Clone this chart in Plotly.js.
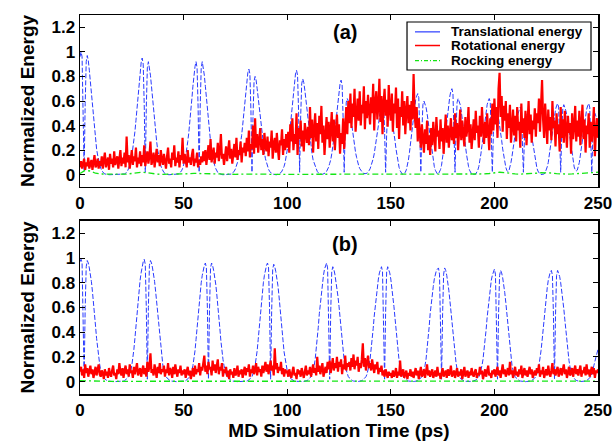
<!DOCTYPE html>
<html>
<head>
<meta charset="utf-8">
<script src="https://cdn.plot.ly/plotly-3.0.1.min.js"></script>
<style>html,body{margin:0;padding:0;background:#fff;}#chart{width:614px;height:442px;}</style>
</head>
<body>
<div id="chart"></div>
<script>
// ---- Data (sampled every 0.5 ps for translational / rotational, every 2.5 ps for rocking) ----
const timeStart = 0;
const timeStep = 0.5;
const rockStep = 2.5;

const xTicks = [0, 50, 100, 150, 200, 250];
const xTickText = ["0", "50", "100", "150", "200", "250"];
const yTicks = [0, 0.2, 0.4, 0.6, 0.8, 1, 1.2];
const yTickText = ["0", "0.2", "0.4", "0.6", "0.8", "1", "1.2"];

const seriesNames = ["Translational energy", "Rotational energy", "Rocking energy"];

// Panel (a)
const transA = [
0.96,1.0,0.96,0.58,0.03,0.58,0.92,0.97,0.93,0.85,0.76,0.65,0.54,0.45,0.36,0.28,0.21,0.16,0.12,0.08,
0.053,0.034,0.02,0.012,0.006,0.003,0.001,0,0,0,0,0,0,0,0,0,0,0,0,0,
0,0.001,0.003,0.006,0.011,0.019,0.033,0.052,0.076,0.11,0.15,0.21,0.28,0.35,0.44,0.53,0.64,0.74,0.84,0.91,
0.95,0.9,0.57,0.02,0.55,0.87,0.92,0.88,0.81,0.72,0.62,0.52,0.42,0.34,0.27,0.2,0.15,0.11,0.074,0.05,
0.032,0.018,0.011,0.006,0.003,0.001,0,0,0,0,0,0,0,0.001,0.003,0.006,0.011,0.018,0.032,0.05,
0.074,0.11,0.15,0.2,0.27,0.34,0.42,0.52,0.62,0.72,0.81,0.88,0.92,0.87,0.55,0.02,0.55,0.87,0.92,0.88,
0.81,0.72,0.62,0.52,0.42,0.34,0.27,0.2,0.15,0.11,0.074,0.05,0.032,0.018,0.011,0.006,0.003,0.001,0,0,
0,0,0,0,0.001,0.003,0.005,0.01,0.017,0.03,0.047,0.069,0.1,0.14,0.19,0.25,0.32,0.4,0.48,0.58,
0.67,0.76,0.83,0.86,0.82,0.52,0.02,0.48,0.76,0.8,0.77,0.7,0.62,0.54,0.45,0.37,0.3,0.23,0.18,0.13,
0.096,0.064,0.044,0.028,0.016,0.01,0.005,0.002,0.001,0,0,0.003,0.005,0.01,0.017,0.03,0.047,0.068,0.1,0.14,
0.19,0.25,0.31,0.39,0.48,0.57,0.66,0.75,0.82,0.85,0.81,0.51,0.02,0.47,0.74,0.78,0.75,0.69,0.61,0.52,
0.44,0.36,0.29,0.23,0.17,0.12,0.094,0.062,0.043,0.027,0.016,0.009,0.005,0.003,0.003,0.005,0.009,0.015,0.027,0.042,
0.062,0.092,0.12,0.17,0.22,0.28,0.35,0.43,0.52,0.6,0.68,0.74,0.77,0.73,0.46,0.02,0.37,0.59,0.62,0.6,
0.55,0.48,0.42,0.35,0.29,0.23,0.18,0.14,0.1,0.074,0.05,0.034,0.022,0.014,0.01,0.008,0.009,0.013,0.021,0.033,
0.048,0.072,0.1,0.13,0.17,0.22,0.28,0.34,0.4,0.47,0.53,0.58,0.6,0.57,0.36,0.02,0.33,0.52,0.55,0.53,
0.5,0.46,0.41,0.34,0.28,0.21,0.15,0.1,0.06,0.033,0.017,0.006,0.001,0.007,0.02,0.04,0.073,0.12,0.18,0.25,
0.33,0.41,0.49,0.55,0.61,0.64,0.66,0.63,0.4,0.02,0.36,0.57,0.6,0.58,0.55,0.5,0.44,0.37,0.3,0.23,
0.16,0.11,0.066,0.036,0.018,0.006,0.007,0.021,0.042,0.077,0.13,0.19,0.27,0.35,0.43,0.52,0.59,0.64,0.68,0.7,
0.66,0.42,0.02,0.37,0.59,0.62,0.6,0.57,0.52,0.46,0.38,0.31,0.24,0.17,0.11,0.068,0.037,0.019,0.006,0.002,
0.001,0.003,0.006,0.019,0.037,0.068,0.11,0.17,0.24,0.31,0.38,0.46,0.52,0.57,0.6,0.62,0.59,0.37,0.02,0.33,
0.52,0.55,0.53,0.5,0.46,0.41,0.34,0.28,0.21,0.15,0.1,0.06,0.035,0.025,0.03,0.06,0.1,0.15,0.21,0.28,
0.34,0.41,0.46,0.5,0.53,0.55,0.52,0.33,0.02,0.3,0.47,0.5,0.48,0.46,0.42,0.37,0.31,0.25,0.19,0.14,
0.09,0.055,0.03,0.015,0.005,0.001,0.001,0.002,0.006,0.017,0.035,0.064,0.1,0.16,0.22,0.29,0.36,0.43,0.49,0.53,
0.56,0.58,0.55,0.35,0.02,0.34,0.54,0.57,0.55,0.52,0.48,0.42,0.35,0.29,0.22,0.15,0.1,0.063,0.04,0.03,
0.037,0.064,0.1,0.16,0.22,0.29,0.36,0.43,0.49,0.53,0.56,0.58,0.55,0.35,0.02,0.3,0.47,0.5,0.48,0.46,
0.43];

const rotA = [
0.06,0.11,0.05,0.09,0.13,0.04,0.1,0.07,0.14,0.05,0.09,0.12,0.04,0.1,0.16,0.06,0.08,0.13,0.05,0.11,
0.07,0.15,0.05,0.12,0.18,0.06,0.1,0.14,0.04,0.17,0.09,0.13,0.06,0.19,0.08,0.11,0.15,0.05,0.12,0.2,
0.07,0.14,0.09,0.18,0.06,0.31,0.1,0.16,0.05,0.13,0.2,0.08,0.15,0.11,0.22,0.06,0.14,0.09,0.19,0.07,
0.16,0.1,0.24,0.07,0.13,0.19,0.09,0.15,0.27,0.08,0.12,0.18,0.06,0.14,0.21,0.1,0.16,0.07,0.2,0.12,
0.08,0.17,0.11,0.05,0.15,0.22,0.09,0.13,0.06,0.18,0.12,0.24,0.07,0.14,0.1,0.19,0.06,0.16,0.12,0.3,
0.09,0.17,0.12,0.06,0.2,0.1,0.14,0.08,0.16,0.21,0.07,0.13,0.1,0.18,0.06,0.12,0.08,0.15,0.1,0.19,
0.11,0.2,0.08,0.17,0.24,0.12,0.29,0.1,0.16,0.22,0.09,0.18,0.14,0.26,0.11,0.19,0.33,0.13,0.17,0.08,
0.15,0.23,0.11,0.19,0.28,0.13,0.21,0.09,0.17,0.25,0.14,0.3,0.12,0.2,0.16,0.27,0.1,0.22,0.18,0.26,
0.15,0.3,0.19,0.36,0.14,0.25,0.21,0.4,0.17,0.46,0.22,0.33,0.18,0.27,0.38,0.2,0.29,0.16,0.34,0.23,
0.19,0.31,0.15,0.27,0.22,0.36,0.13,0.25,0.3,0.18,0.34,0.21,0.12,0.28,0.24,0.37,0.16,0.29,0.2,0.33,
0.22,0.35,0.18,0.41,0.27,0.46,0.2,0.33,0.25,0.5,0.16,0.38,0.29,0.44,0.23,0.36,0.19,0.42,0.31,0.26,
0.39,0.24,0.55,0.3,0.45,0.18,0.37,0.5,0.27,0.42,0.21,0.48,0.33,0.56,0.26,0.4,0.16,0.35,0.47,0.29,
0.43,0.22,0.38,0.51,0.27,0.45,0.2,0.36,0.49,0.3,0.41,0.17,0.34,0.25,0.46,0.21,0.39,0.55,0.33,0.6,
0.42,0.66,0.38,0.58,0.47,0.7,0.35,0.55,0.62,0.44,0.68,0.4,0.57,0.5,0.72,0.37,0.6,0.46,0.65,0.52,
0.41,0.63,0.5,0.74,0.36,0.59,0.68,0.45,0.56,0.78,0.43,0.64,0.33,0.58,0.7,0.48,0.61,0.39,0.73,0.53,
0.44,0.66,0.35,0.58,0.5,0.71,0.38,0.62,0.29,0.55,0.47,0.68,0.4,0.6,0.33,0.52,0.64,0.42,0.57,0.36,
0.6,0.45,0.82,0.5,0.38,0.55,0.27,0.46,0.33,0.22,0.41,0.28,0.18,0.37,0.25,0.44,0.2,0.32,0.16,0.38,
0.24,0.43,0.29,0.19,0.47,0.31,0.36,0.21,0.45,0.27,0.38,0.17,0.33,0.49,0.26,0.4,0.22,0.35,0.46,0.28,
0.39,0.25,0.5,0.3,0.42,0.2,0.36,0.53,0.28,0.44,0.33,0.23,0.47,0.31,0.38,0.55,0.26,0.41,0.21,0.35,
0.45,0.28,0.52,0.34,0.4,0.22,0.48,0.31,0.55,0.37,0.25,0.43,0.3,0.5,0.39,0.2,0.46,0.33,0.58,0.36,
0.62,0.41,0.55,0.3,0.7,0.83,0.47,0.64,0.35,0.56,0.44,0.6,0.29,0.5,0.38,0.57,0.26,0.46,0.53,0.32,
0.48,0.27,0.55,0.36,0.43,0.22,0.58,0.34,0.46,0.3,0.52,0.24,0.41,0.6,0.33,0.49,0.26,0.44,0.37,0.54,
0.31,0.5,0.42,0.62,0.35,0.56,0.77,0.45,0.3,0.58,0.4,0.25,0.53,0.36,0.47,0.28,0.6,0.38,0.44,0.23,
0.5,0.33,0.41,0.19,0.55,0.3,0.45,0.26,0.52,0.37,0.22,0.48,0.34,0.42,0.17,0.5,0.29,0.4,0.56,0.27,
0.44,0.31,0.52,0.24,0.38,0.57,0.29,0.45,0.18,0.4,0.33,0.5,0.22,0.43,0.27,0.37,0.55,0.15,0.35,0.46,
0.3];

const rockA = [
0.01,0.035,0.03,0.012,0.006,0.004,0.003,0.003,0.004,0.005,
0.008,0.014,0.02,0.016,0.007,0.004,0.003,0.003,0.003,0.004,
0.005,0.008,0.011,0.01,0.006,0.004,0.003,0.003,0.004,0.003,
0.003,0.004,0.005,0.004,0.003,0.003,0.004,0.003,0.003,0.004,
0.004,0.003,0.003,0.004,0.005,0.004,0.003,0.003,0.004,0.004,
0.003,0.004,0.005,0.004,0.003,0.003,0.004,0.005,0.004,0.003,
0.004,0.004,0.005,0.005,0.004,0.006,0.009,0.008,0.005,0.004,
0.004,0.005,0.006,0.005,0.004,0.004,0.005,0.005,0.006,0.01,
0.016,0.02,0.017,0.01,0.006,0.005,0.006,0.008,0.012,0.016,
0.018,0.014,0.008,0.005,0.005,0.006,0.008,0.01,0.012,0.016,0.02];

// Panel (b)
const transB = [
0.97,0.99,0.96,0.6,0.03,0.6,0.93,0.98,0.96,0.92,0.87,0.81,0.73,0.65,0.56,0.45,0.35,0.26,0.19,0.14,
0.09,0.06,0.04,0.03,0.02,0.013,0.008,0.005,0.003,0.002,0.001,0.001,0,0,0,0,0,0,0.001,0.001,
0.002,0.003,0.005,0.008,0.013,0.02,0.03,0.04,0.06,0.09,0.13,0.18,0.26,0.35,0.45,0.56,0.65,0.74,0.82,0.88,
0.93,0.97,0.99,0.95,0.6,0.02,0.6,0.94,0.98,0.96,0.92,0.87,0.81,0.73,0.64,0.55,0.44,0.34,0.25,0.18,
0.13,0.09,0.06,0.04,0.03,0.02,0.013,0.008,0.005,0.003,0.002,0.001,0.001,0,0,0,0,0.001,0.001,0.002,
0.003,0.005,0.008,0.013,0.02,0.03,0.04,0.06,0.09,0.13,0.18,0.25,0.34,0.44,0.55,0.64,0.72,0.8,0.86,0.91,
0.94,0.96,0.92,0.58,0.02,0.58,0.92,0.96,0.94,0.9,0.85,0.79,0.71,0.63,0.54,0.43,0.33,0.24,0.18,0.13,
0.09,0.06,0.04,0.03,0.02,0.013,0.008,0.005,0.003,0.002,0.001,0.001,0,0,0,0,0,0.001,0.001,0.002,
0.003,0.005,0.008,0.013,0.02,0.03,0.04,0.06,0.09,0.13,0.18,0.25,0.34,0.44,0.55,0.64,0.72,0.8,0.86,0.91,
0.94,0.96,0.92,0.58,0.02,0.57,0.91,0.95,0.93,0.89,0.84,0.78,0.7,0.62,0.53,0.43,0.33,0.24,0.18,0.13,
0.09,0.06,0.04,0.03,0.02,0.013,0.008,0.005,0.003,0.002,0.001,0.001,0,0,0.001,0.001,0.002,0.003,0.005,0.008,
0.013,0.02,0.03,0.04,0.06,0.09,0.13,0.18,0.25,0.34,0.44,0.55,0.64,0.72,0.8,0.86,0.91,0.94,0.96,0.92,
0.58,0.02,0.56,0.89,0.93,0.91,0.87,0.82,0.76,0.69,0.61,0.52,0.42,0.32,0.24,0.17,0.12,0.09,0.06,0.04,
0.03,0.02,0.013,0.008,0.005,0.003,0.002,0.001,0.001,0.002,0.003,0.005,0.008,0.013,0.02,0.03,0.04,0.06,0.09,0.13,
0.18,0.25,0.33,0.43,0.53,0.62,0.7,0.77,0.83,0.88,0.91,0.93,0.89,0.56,0.02,0.56,0.89,0.93,0.91,0.88,
0.83,0.77,0.7,0.61,0.52,0.42,0.32,0.24,0.17,0.12,0.09,0.06,0.04,0.03,0.02,0.013,0.008,0.005,0.003,0.002,
0.001,0.001,0.001,0.002,0.003,0.005,0.008,0.013,0.02,0.03,0.04,0.06,0.09,0.13,0.18,0.25,0.34,0.44,0.55,0.64,
0.7,0.77,0.83,0.87,0.9,0.91,0.92,0.87,0.55,0.02,0.55,0.87,0.92,0.9,0.86,0.81,0.74,0.66,0.57,0.47,
0.37,0.28,0.21,0.15,0.1,0.07,0.05,0.03,0.02,0.013,0.008,0.005,0.003,0.002,0.001,0.001,0.001,0.001,0.002,0.003,
0.005,0.008,0.013,0.02,0.03,0.04,0.06,0.09,0.13,0.18,0.25,0.33,0.42,0.52,0.61,0.69,0.76,0.82,0.86,0.89,
0.91,0.87,0.55,0.02,0.54,0.86,0.9,0.88,0.84,0.79,0.72,0.64,0.55,0.45,0.35,0.26,0.19,0.13,0.09,0.06,
0.04,0.03,0.02,0.013,0.008,0.005,0.003,0.002,0.001,0.001,0,0.001,0.001,0.002,0.003,0.005,0.008,0.013,0.02,0.03,
0.04,0.06,0.09,0.13,0.18,0.25,0.33,0.43,0.52,0.61,0.69,0.76,0.82,0.86,0.89,0.9,0.86,0.54,0.02,0.54,
0.86,0.9,0.88,0.85,0.8,0.74,0.67,0.59,0.5,0.4,0.31,0.23,0.17,0.12,0.08,0.055,0.04,0.025,0.016,0.01,
0.006,0.004,0.002,0.001,0.001,0.001,0.002,0.003,0.005,0.008,0.013,0.02,0.03,0.04,0.06,0.09,0.13,0.17,0.2,0.23,
0.26];

const rotB = [
0.08,0.12,0.05,0.1,0.03,0.14,0.07,0.11,0.04,0.09,0.13,0.06,0.1,0.03,0.08,0.12,0.05,0.09,0.14,0.06,
0.04,0.09,0.07,0.02,0.1,0.05,0.08,0.03,0.11,0.06,0.04,0.09,0.13,0.05,0.07,0.02,0.1,0.06,0.15,0.08,
0.05,0.11,0.03,0.09,0.13,0.06,0.1,0.04,0.14,0.07,0.09,0.03,0.12,0.06,0.1,0.15,0.05,0.08,0.11,0.04,
0.09,0.13,0.06,0.11,0.04,0.16,0.08,0.12,0.23,0.07,0.1,0.05,0.14,0.09,0.03,0.12,0.07,0.15,0.06,0.1,
0.08,0.13,0.04,0.1,0.07,0.15,0.05,0.11,0.09,0.03,0.12,0.06,0.14,0.08,0.04,0.1,0.07,0.13,0.05,0.09,
0.06,0.1,0.03,0.08,0.12,0.05,0.09,0.02,0.07,0.11,0.04,0.13,0.06,0.1,0.08,0.15,0.05,0.12,0.09,0.14,
0.21,0.08,0.13,0.06,0.16,0.1,0.12,0.05,0.17,0.09,0.14,0.07,0.11,0.18,0.06,0.12,0.09,0.15,0.04,0.1,
0.07,0.12,0.04,0.09,0.02,0.1,0.06,0.08,0.03,0.11,0.05,0.07,0.13,0.04,0.09,0.06,0.1,0.03,0.08,0.12,
0.05,0.11,0.08,0.14,0.04,0.1,0.07,0.13,0.06,0.09,0.15,0.05,0.12,0.08,0.1,0.04,0.13,0.07,0.11,0.16,
0.08,0.14,0.06,0.12,0.17,0.09,0.13,0.05,0.27,0.1,0.15,0.07,0.12,0.09,0.16,0.06,0.11,0.04,0.1,0.07,
0.09,0.04,0.1,0.06,0.03,0.08,0.12,0.05,0.07,0.02,0.1,0.06,0.09,0.04,0.11,0.07,0.03,0.08,0.13,0.05,
0.09,0.06,0.12,0.04,0.1,0.14,0.07,0.11,0.05,0.2,0.08,0.13,0.06,0.1,0.15,0.04,0.09,0.12,0.07,0.16,
0.1,0.17,0.07,0.14,0.19,0.09,0.15,0.11,0.2,0.08,0.16,0.12,0.18,0.06,0.14,0.1,0.21,0.09,0.15,0.12,
0.16,0.09,0.19,0.12,0.22,0.1,0.17,0.13,0.2,0.08,0.15,0.11,0.18,0.31,0.12,0.19,0.09,0.16,0.21,0.11,
0.15,0.09,0.18,0.12,0.07,0.14,0.1,0.16,0.06,0.11,0.08,0.13,0.05,0.09,0.04,0.1,0.06,0.03,0.08,0.05,
0.07,0.03,0.09,0.04,0.06,0.11,0.03,0.08,0.05,0.17,0.04,0.07,0.1,0.03,0.06,0.09,0.02,0.07,0.05,0.1,
0.04,0.08,0.03,0.06,0.11,0.05,0.09,0.02,0.07,0.12,0.04,0.06,0.1,0.03,0.08,0.14,0.05,0.09,0.04,0.07,
0.1,0.03,0.06,0.09,0.04,0.12,0.05,0.07,0.02,0.08,0.11,0.04,0.06,0.09,0.03,0.1,0.05,0.07,0.13,0.04,
0.06,0.09,0.03,0.07,0.11,0.04,0.08,0.05,0.1,0.02,0.07,0.12,0.04,0.06,0.09,0.03,0.08,0.05,0.11,0.06,
0.04,0.08,0.1,0.03,0.07,0.05,0.12,0.06,0.09,0.02,0.06,0.1,0.04,0.08,0.13,0.05,0.07,0.03,0.09,0.06,
0.1,0.04,0.07,0.12,0.05,0.09,0.03,0.08,0.14,0.06,0.1,0.04,0.07,0.11,0.05,0.16,0.06,0.09,0.03,0.08,
0.12,0.05,0.08,0.04,0.1,0.06,0.13,0.03,0.07,0.11,0.05,0.09,0.04,0.08,0.12,0.06,0.1,0.03,0.07,0.09,
0.05,0.11,0.07,0.14,0.04,0.09,0.06,0.12,0.03,0.08,0.1,0.05,0.13,0.07,0.04,0.09,0.15,0.06,0.1,0.05,
0.08,0.12,0.04,0.07,0.11,0.05,0.09,0.14,0.06,0.1,0.03,0.08,0.12,0.05,0.07,0.11,0.04,0.09,0.13,0.06,
0.1,0.05,0.08,0.13,0.04,0.09,0.07,0.12,0.05,0.14,0.06,0.1,0.04,0.08,0.12,0.06,0.11,0.03,0.09,0.07,
0.1];

const rockB = [
0.008,0.006,0.004,0.003,0.003,0.002,0.002,0.003,0.002,0.002,
0.003,0.002,0.002,0.003,0.003,0.002,0.002,0.003,0.002,0.002,
0.003,0.003,0.002,0.002,0.003,0.002,0.002,0.003,0.003,0.002,
0.002,0.003,0.002,0.002,0.003,0.003,0.002,0.002,0.003,0.002,
0.002,0.003,0.003,0.002,0.002,0.003,0.002,0.002,0.003,0.003,
0.003,0.004,0.004,0.003,0.003,0.002,0.002,0.003,0.002,0.002,
0.003,0.002,0.002,0.003,0.003,0.002,0.002,0.003,0.002,0.002,
0.002,0.003,0.003,0.002,0.002,0.003,0.002,0.002,0.003,0.002,
0.002,0.003,0.002,0.002,0.003,0.003,0.002,0.002,0.003,0.002,
0.002,0.003,0.003,0.002,0.002,0.003,0.002,0.002,0.003,0.003,0.004];

// ---- Styles ----
const FONT = "Liberation Sans, Arial, Helvetica, sans-serif";
const seriesColors = ["#2a3bff", "#ff0000", "#14e614"];
const blueLine = {color: seriesColors[0], width: 1, dash: "5px,2px"};
const redLine = {color: seriesColors[1], width: 2.2};
const greenLine = {color: seriesColors[2], width: 1.3, dash: "6px,3px,2px,3px"};

const traces = [
  {type: "scatter", mode: "lines", name: seriesNames[0], y: transA, x0: timeStart, dx: timeStep, xaxis: "x", yaxis: "y", line: blueLine},
  {type: "scatter", mode: "lines", name: seriesNames[1], y: rotA, x0: timeStart, dx: timeStep, xaxis: "x", yaxis: "y", line: redLine},
  {type: "scatter", mode: "lines", name: seriesNames[2], y: rockA, x0: timeStart, dx: rockStep, xaxis: "x", yaxis: "y", line: greenLine},
  {type: "scatter", mode: "lines", name: seriesNames[0], y: transB, x0: timeStart, dx: timeStep, xaxis: "x2", yaxis: "y2", line: blueLine},
  {type: "scatter", mode: "lines", name: seriesNames[1], y: rotB, x0: timeStart, dx: timeStep, xaxis: "x2", yaxis: "y2", line: redLine},
  {type: "scatter", mode: "lines", name: seriesNames[2], y: rockB, x0: timeStart, dx: rockStep, xaxis: "x2", yaxis: "y2", line: greenLine}
];

const tickFont = {family: FONT, size: 17, color: "#000", weight: "bold"};
const titleFont = {family: FONT, size: 19, color: "#000", weight: "bold"};

function xAxis(anchor, withTitle) {
  const a = {
    anchor: anchor, domain: [0, 1], range: [0, 250],
    tickmode: "array", tickvals: xTicks, ticktext: xTickText,
    showline: true, linecolor: "#000", linewidth: 1.5, mirror: "ticks",
    ticks: "inside", ticklen: 5, tickwidth: 1, tickcolor: "#000",
    showgrid: false, zeroline: false, tickfont: tickFont, automargin: false
  };
  if (withTitle) a.title = {text: "MD Simulation Time (ps)", font: titleFont, standoff: 4};
  return a;
}
function yAxis(anchor, domain) {
  return {
    anchor: anchor, domain: domain, range: [-0.1, 1.3],
    tickmode: "array", tickvals: yTicks, ticktext: yTickText,
    showline: true, linecolor: "#000", linewidth: 1.5, mirror: "ticks",
    ticks: "inside", ticklen: 5, tickwidth: 1, tickcolor: "#000",
    showgrid: false, zeroline: false, tickfont: tickFont, automargin: false,
    title: {text: "Normalized Energy", font: titleFont, standoff: 12}
  };
}

// Legend box drawn in the upper panel (paper coordinates)
const legendBox = {x0: 0.6313, x1: 0.9865, y0: 0.8549, y1: 0.9815};
const legendRowsY = [0.9555, 0.9195, 0.8795];
const legendLineX = [0.6467, 0.695];
const legendTextX = 0.7125;
const legendLines = [blueLine, redLine, greenLine];

const shapes = [
  {type: "rect", xref: "paper", yref: "paper", x0: legendBox.x0, x1: legendBox.x1, y0: legendBox.y0, y1: legendBox.y1,
   line: {color: "#000", width: 1.2}, fillcolor: "#fff", layer: "above"}
];
const annotations = [
  {xref: "x", yref: "y", x: 128, y: 1.16, text: "(a)", showarrow: false, font: {family: FONT, size: 20, color: "#000", weight: "bold"}},
  {xref: "x2", yref: "y2", x: 128, y: 1.11, text: "(b)", showarrow: false, font: {family: FONT, size: 20, color: "#000", weight: "bold"}}
];
seriesNames.forEach(function (name, i) {
  shapes.push({type: "line", xref: "paper", yref: "paper", x0: legendLineX[0], x1: legendLineX[1], y0: legendRowsY[i], y1: legendRowsY[i],
    line: {color: legendLines[i].color, width: i === 1 ? 1.5 : 1.2, dash: i === 2 ? "4px,2px,1px,2px" : "solid"}, layer: "above"});
  annotations.push({xref: "paper", yref: "paper", x: legendTextX, y: legendRowsY[i], xanchor: "left", yanchor: "middle",
    text: name, showarrow: false, font: {family: FONT, size: 13.5, color: "#000", weight: "bold"}});
});

const layout = {
  width: 614, height: 442,
  margin: {l: 80, r: 16, t: 15, b: 48},
  paper_bgcolor: "#fff", plot_bgcolor: "#fff",
  font: {family: FONT, color: "#000"},
  showlegend: false,
  xaxis: xAxis("y", false),
  yaxis: yAxis("x", [0.5462, 1]),
  xaxis2: xAxis("y2", true),
  yaxis2: yAxis("x2", [0, 0.4565]),
  shapes: shapes,
  annotations: annotations
};

Plotly.newPlot("chart", traces, layout, {displayModeBar: false, staticPlot: true});
</script>
</body>
</html>
